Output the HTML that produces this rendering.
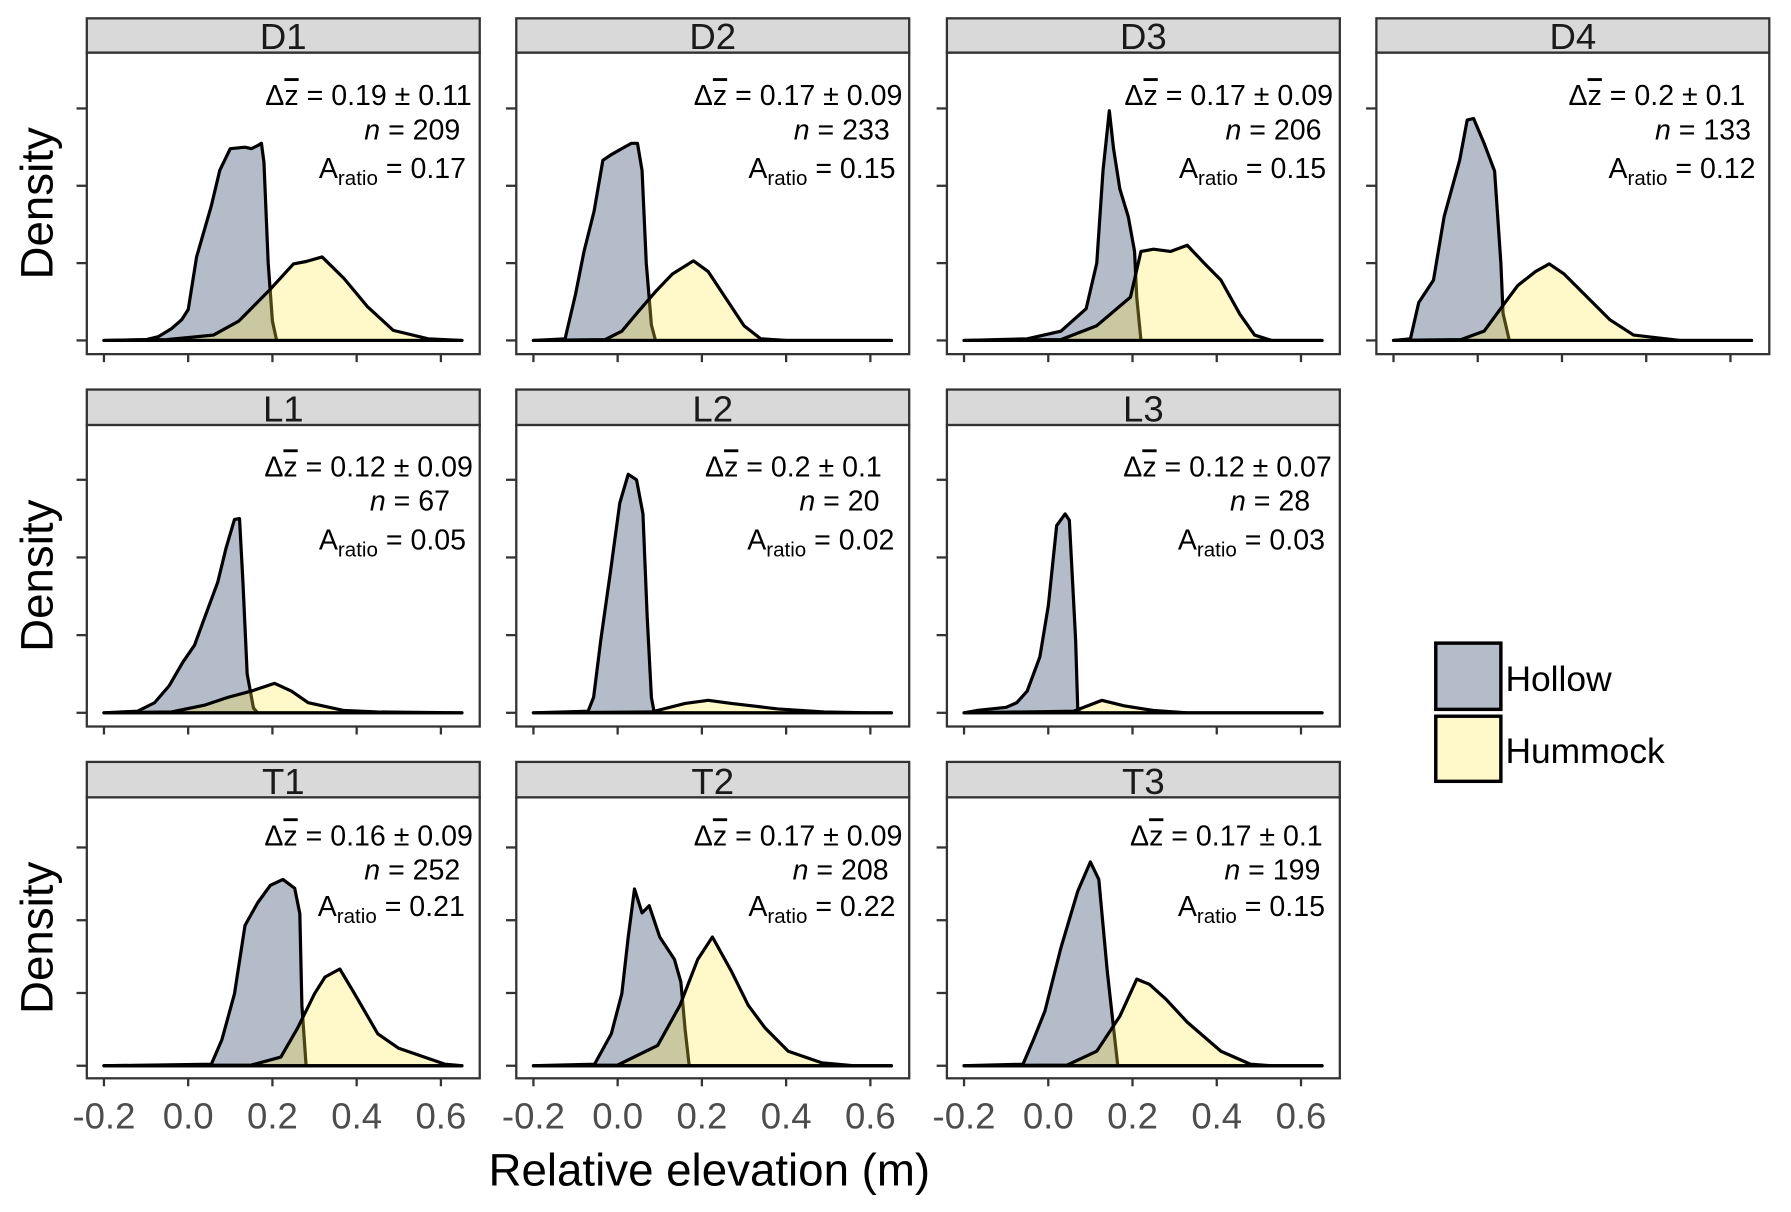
<!DOCTYPE html>
<html><head><meta charset="utf-8"><style>
html,body{margin:0;padding:0;background:#fff;}
svg{display:block;font-family:"Liberation Sans",Arial,sans-serif;}
</style></head><body>
<svg id="chart" width="1791" height="1212" viewBox="0 0 1568 1061" xmlns="http://www.w3.org/2000/svg">
<rect width="1568" height="1061" fill="#fff"/>
</svg>
<script>
const panelNames = ["D1","D2","D3","D4","L1","L2","L3","T1","T2","T3"];
const dzLabels = ["0.19 \u00b1 0.11","0.17 \u00b1 0.09","0.17 \u00b1 0.09","0.2 \u00b1 0.1","0.12 \u00b1 0.09","0.2 \u00b1 0.1","0.12 \u00b1 0.07","0.16 \u00b1 0.09","0.17 \u00b1 0.09","0.17 \u00b1 0.1"];
const nLabels = ["209","233","206","133","67","20","28","252","208","199"];
const aratioLabels = ["0.17","0.15","0.15","0.12","0.05","0.02","0.03","0.21","0.22","0.15"];
const xTickValues = [-0.2,0,0.2,0.4,0.6];
const xTickLabels = ["-0.2","0.0","0.2","0.4","0.6"];
const yTickValues = [0,1,2,3];
// Density series (elevation m, density in tick units)
const hollowX = [
 [-0.2,-0.1,-0.07,-0.04,-0.015,0,0.02,0.055,0.075,0.1,0.135,0.15,0.165,0.174,0.18,0.19,0.2,0.21,0.65],
 [-0.2,-0.125,-0.1,-0.08,-0.056,-0.035,-0.016,0.01,0.033,0.047,0.058,0.068,0.08,0.09,0.65],
 [-0.2,-0.05,0.03,0.09,0.115,0.13,0.145,0.155,0.17,0.19,0.205,0.21,0.22,0.65],
 [-0.2,-0.16,-0.14,-0.105,-0.08,-0.043,-0.025,-0.01,0.015,0.04,0.055,0.06,0.075,0.65],
 [-0.2,-0.12,-0.08,-0.045,-0.013,0.015,0.04,0.07,0.09,0.11,0.122,0.13,0.14,0.155,0.165,0.65],
 [-0.2,-0.07,-0.057,-0.04,-0.017,0.005,0.025,0.045,0.06,0.07,0.08,0.087,0.65],
 [-0.2,-0.17,-0.1,-0.075,-0.05,-0.02,0,0.02,0.04,0.05,0.065,0.07,0.078,0.65],
 [-0.2,0.055,0.08,0.11,0.135,0.165,0.195,0.225,0.253,0.265,0.27,0.28,0.65],
 [-0.2,-0.055,-0.015,0.01,0.025,0.04,0.058,0.075,0.1,0.135,0.15,0.16,0.17,0.65],
 [-0.2,-0.06,-0.035,-0.008,0.03,0.07,0.1,0.12,0.14,0.155,0.165,0.65]
];
const hollowY = [
 [0,0.01,0.05,0.15,0.27,0.4,1.08,1.74,2.2,2.48,2.5,2.48,2.52,2.55,2.3,1.0,0.25,0,0],
 [0,0.02,0.6,1.15,1.67,2.33,2.4,2.48,2.55,2.55,2.2,1.0,0.2,0,0],
 [0,0.02,0.12,0.41,1.0,2.2,2.97,2.48,1.96,1.6,1.15,0.56,0,0],
 [0,0.02,0.49,0.78,1.6,2.33,2.85,2.87,2.55,2.19,1.0,0.35,0,0],
 [0,0.02,0.13,0.35,0.65,0.87,1.24,1.68,2.12,2.49,2.5,1.68,0.5,0.06,0,0],
 [0,0.02,0.2,0.94,1.82,2.7,3.07,3.0,2.56,1.24,0.2,0,0],
 [0,0.03,0.07,0.13,0.28,0.72,1.38,2.41,2.56,2.48,0.94,0.03,0,0],
 [0,0.02,0.36,0.99,1.93,2.24,2.48,2.56,2.44,2.09,0.83,0,0],
 [0,0.02,0.44,0.99,1.77,2.43,2.1,2.2,1.77,1.46,1.15,0.5,0,0],
 [0,0.02,0.36,0.75,1.62,2.4,2.8,2.56,1.3,0.52,0,0]
];
const hummockX = [
 [-0.2,-0.05,0.06,0.12,0.193,0.25,0.28,0.318,0.37,0.425,0.487,0.57,0.65],
 [-0.2,-0.03,0.01,0.05,0.09,0.13,0.18,0.215,0.255,0.3,0.34,0.4,0.65],
 [-0.2,0.03,0.115,0.195,0.22,0.25,0.29,0.33,0.37,0.41,0.455,0.49,0.53,0.65],
 [-0.2,-0.04,0.015,0.065,0.095,0.137,0.17,0.205,0.26,0.313,0.37,0.48,0.65],
 [-0.2,-0.04,0.04,0.095,0.15,0.205,0.245,0.285,0.37,0.45,0.65],
 [-0.2,0.08,0.16,0.215,0.27,0.38,0.49,0.6,0.65],
 [-0.2,0.06,0.127,0.18,0.25,0.33,0.65],
 [-0.2,0.15,0.22,0.26,0.3,0.325,0.36,0.395,0.45,0.5,0.555,0.61,0.65],
 [-0.2,0.0,0.095,0.148,0.19,0.225,0.27,0.31,0.35,0.405,0.485,0.56,0.65],
 [-0.2,0.045,0.115,0.17,0.21,0.24,0.28,0.33,0.41,0.48,0.53,0.65]
];
const hummockY = [
 [0,0.01,0.07,0.25,0.65,0.99,1.02,1.08,0.8,0.44,0.13,0.02,0],
 [0,0.01,0.12,0.38,0.63,0.86,1.03,0.89,0.56,0.19,0.02,0,0],
 [0,0.01,0.19,0.56,1.15,1.18,1.15,1.23,1.0,0.78,0.34,0.07,0,0],
 [0,0.01,0.12,0.49,0.71,0.89,0.99,0.86,0.56,0.27,0.07,0,0],
 [0,0.01,0.1,0.2,0.28,0.38,0.28,0.13,0.03,0.01,0],
 [0,0.01,0.12,0.16,0.12,0.05,0.01,0,0],
 [0,0.02,0.16,0.09,0.03,0,0],
 [0,0.01,0.12,0.52,0.99,1.22,1.33,0.99,0.44,0.24,0.13,0.02,0],
 [0,0.01,0.28,0.83,1.46,1.77,1.3,0.83,0.52,0.2,0.04,0,0],
 [0,0.01,0.2,0.68,1.19,1.12,0.91,0.6,0.2,0.02,0,0]
];
const annoEnds = [[413,403,408],[790,779,784],[1167,1157,1161],[1528,1533,1537],[414,394,408],[772,770,783],[1166,1147,1160],[414,403,407],[790,778,784],[1158,1156,1160]];

const NS="http://www.w3.org/2000/svg";
const svg=document.getElementById("chart");
function mk(tag,attrs,parent){const e=document.createElementNS(NS,tag);for(const k in attrs)e.setAttribute(k,attrs[k]);(parent||svg).appendChild(e);return e;}
const colLeft=[76,452,829,1205], colW=344;
const rows=[{strip:16,top:46,bot:310,zero:298,unit:67.7},{strip:341,top:372,bot:636,zero:624,unit:68},{strip:667,top:698,bot:944,zero:933,unit:63.7}];
const xPerUnit=368.75;
function sx(c,v){return colLeft[c]+15+(v+0.2)*xPerUnit;}

panelNames.forEach((name,i)=>{
  const r=i<4?0:(i<7?1:2); const c=i<4?i:(i<7?i-4:i-7);
  const R=rows[r]; const L=colLeft[c];
  const sy=d=>R.zero-d*R.unit;
  const g=mk("g",{});
  
  
  mk("rect",{x:L,y:R.top,width:colW,height:R.bot-R.top,fill:"#fff"},g);
  let d="M"+sx(c,hollowX[i][0])+","+sy(0);
  hollowX[i].forEach((v,k)=>{d+=" L"+sx(c,v).toFixed(1)+","+sy(hollowY[i][k]).toFixed(1);});
  d+=" L"+sx(c,0.65)+","+sy(0)+" Z";
  const ph=mk("path",{d:d,fill:"#b3bcc8",stroke:"#000","stroke-width":2.8,"stroke-linejoin":"round"},g);
  
  
  let d2="M"+sx(c,hummockX[i][0])+","+sy(0);
  hummockX[i].forEach((v,k)=>{d2+=" L"+sx(c,v).toFixed(1)+","+sy(hummockY[i][k]).toFixed(1);});
  d2+=" L"+sx(c,0.65)+","+sy(0)+" Z";
  const pm=mk("path",{d:d2,fill:"rgba(255,231,65,0.29)",stroke:"#000","stroke-width":2.8,"stroke-linejoin":"round"},g);
  
  
  mk("rect",{x:L,y:R.top,width:colW,height:R.bot-R.top,fill:"none",stroke:"#333","stroke-width":2},g);
  mk("rect",{x:L,y:R.strip,width:colW,height:R.top-R.strip,fill:"#d9d9d9",stroke:"#333","stroke-width":2},g);
  const st=mk("text",{x:L+colW/2,y:R.top-3,"text-anchor":"middle","font-size":32,fill:"#1a1a1a"},g);
  st.textContent=name;
  
  
  yTickValues.forEach(t=>{mk("line",{x1:L-9,x2:L,y1:sy(t),y2:sy(t),stroke:"#333","stroke-width":2},g);});
  xTickValues.forEach((t,k)=>{
    mk("line",{x1:sx(c,t),x2:sx(c,t),y1:R.bot,y2:R.bot+7,stroke:"#333","stroke-width":2},g);
    if(r===2){const tl=mk("text",{x:sx(c,t),y:988,"text-anchor":"middle","font-size":32,fill:"#4d4d4d"},g);
      tl.textContent=xTickLabels[k];
      
      }
  });
  const bl=[R.strip+76,R.strip+106,R.strip+140];
  if(r===2){bl[0]=R.strip+73;bl[1]=R.strip+103;bl[2]=R.strip+135;}
  const e=annoEnds[i];
  const t1=mk("text",{x:e[0],y:bl[0],"text-anchor":"end","font-size":25,fill:"#000"},g);
  t1.innerHTML='\u0394<tspan text-decoration="overline">z</tspan> = '+dzLabels[i];
  
  
  const t2=mk("text",{x:e[1],y:bl[1],"text-anchor":"end","font-size":25,fill:"#000"},g);
  t2.innerHTML='<tspan font-style="italic">n</tspan> = '+nLabels[i];
  
  
  const t3=mk("text",{x:e[2],y:bl[2],"text-anchor":"end","font-size":25,fill:"#000"},g);
  t3.innerHTML='A<tspan font-size="18" dy="6">ratio</tspan><tspan dy="-6"> = '+aratioLabels[i]+'</tspan>';
  
  
});
[178,504,821].forEach(cy=>{
  const t=mk("text",{x:0,y:0,transform:"translate(46,"+cy+") rotate(-90)","text-anchor":"middle","font-size":40,fill:"#000"});
  t.textContent="Density";
  
  
});
const xt=mk("text",{x:621,y:1038,"text-anchor":"middle","font-size":40,fill:"#000"});
xt.textContent="Relative elevation (m)";


const lg=mk("g",{});


const k1=mk("rect",{x:1257,y:563,width:57,height:58,fill:"#b3bcc8",stroke:"#000","stroke-width":3},lg);


const l1=mk("text",{x:1318,y:605,"font-size":31,fill:"#000"},lg);
l1.textContent="Hollow";


const k2=mk("rect",{x:1257,y:627,width:57,height:57,fill:"#fff8c8",stroke:"#000","stroke-width":3},lg);


const l2=mk("text",{x:1318,y:668,"font-size":31,fill:"#000"},lg);
l2.textContent="Hummock";


</script>
</body></html>
